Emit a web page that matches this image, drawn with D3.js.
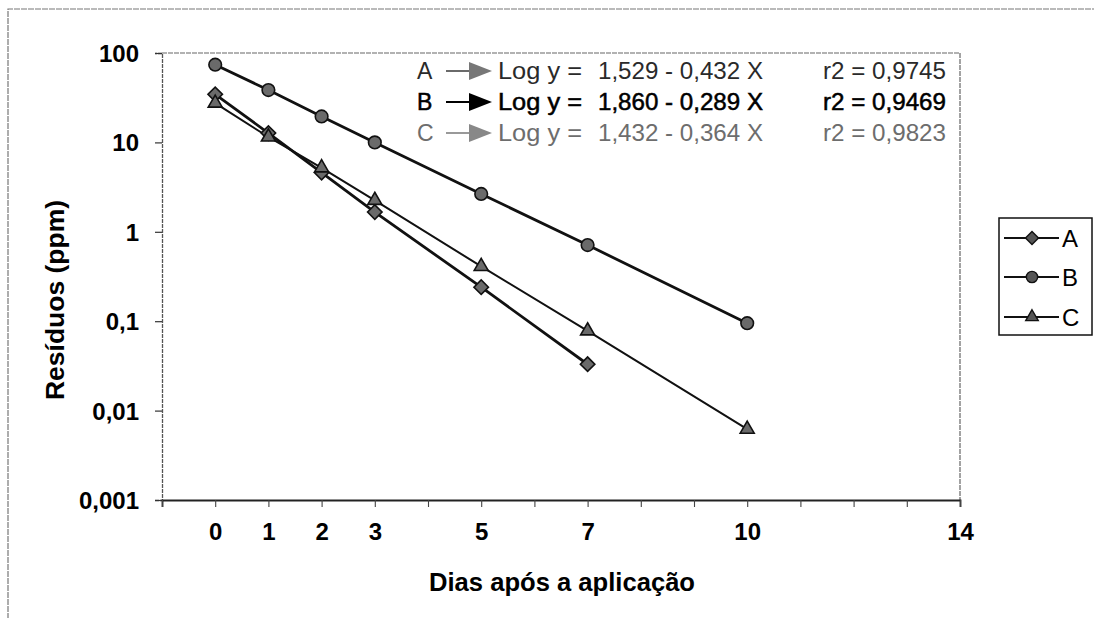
<!DOCTYPE html>
<html><head><meta charset="utf-8">
<script src="https://cdn.jsdelivr.net/npm/d3@7"></script>
<style>body{margin:0;background:#fff}svg{display:block;font-family:Arial,"Liberation Sans",sans-serif}</style>
</head><body><svg id="c" width="1094" height="618"></svg>
<script>
const days = [0, 1, 2, 3, 5, 7, 10];
const seriesA = [34.5, 12.7, 4.6, 1.66, 0.24, 0.033, null];
const seriesB = [74, 38.5, 19.5, 10.0, 2.65, 0.71, 0.095];
const seriesC = [27.5, 11.5, 5.2, 2.25, 0.41, 0.078, 0.0062];
const seriesNames = ["A", "B", "C"];
const xTickLabels = [0, 1, 2, 3, 5, 7, 10, 14];
const yTickValues = [0.001, 0.01, 0.1, 1, 10, 100];
const yTickLabels = ["0,001", "0,01", "0,1", "1", "10", "100"];
const eqIntercepts = ["1,529", "1,860", "1,432"];
const eqSlopes = ["0,432", "0,289", "0,364"];
const eqR2 = ["0,9745", "0,9469", "0,9823"];

const svg = d3.select("#c");
const L = 162, R = 960, T = 53, B = 500;
const x = d3.scaleLinear().domain([-1, 14]).range([L, R]);
const y = d3.scaleLog().domain([0.001, 100]).range([B, T]);
const FF = "Arial,'Liberation Sans',sans-serif";

// outer frame
svg.append("path").attr("d", "M8,640 L8,9 L1100,9").attr("fill", "none")
  .attr("stroke", "#777").attr("stroke-width", 1.2).attr("stroke-dasharray", "6,1");

// plot frame
svg.append("path").attr("d", `M${L},${T} L${R},${T} L${R},${B}`).attr("fill", "none")
  .attr("stroke", "#666").attr("stroke-width", 1.2).attr("stroke-dasharray", "5,1");

// y axis
const yAxis = d3.axisLeft(y).tickValues(yTickValues).tickSize(7).tickPadding(16)
  .tickFormat((d, i) => yTickLabels[i]);
const gy = svg.append("g").attr("transform", `translate(${L},0)`).call(yAxis);
gy.select(".domain").attr("stroke", "#555").attr("stroke-width", 1.3).attr("stroke-dasharray", "4,1");
gy.selectAll(".tick line").attr("stroke", "#333").attr("stroke-width", 1.2);
gy.selectAll("text").attr("font-size", 24).attr("font-weight", "bold").attr("fill", "#000")
  .attr("font-family", FF).attr("dy", "0.35em");

// x axis
const xAxis = d3.axisBottom(x).tickValues(d3.range(-1, 15)).tickSize(7).tickPadding(16)
  .tickFormat(d => xTickLabels.includes(d) ? String(d) : "");
const gx = svg.append("g").attr("transform", `translate(0,${B})`).call(xAxis);
gx.select(".domain").attr("stroke", "#222").attr("stroke-width", 1.8);
gx.selectAll(".tick line").attr("stroke", "#444").attr("stroke-width", 1.1);
gx.selectAll("text").attr("font-size", 24).attr("font-weight", "bold").attr("fill", "#000")
  .attr("font-family", FF);

// axis titles
svg.append("text").attr("x", 562).attr("y", 591).attr("text-anchor", "middle")
  .attr("font-size", 25).attr("font-weight", "bold")
  .attr("textLength", 266).attr("lengthAdjust", "spacingAndGlyphs").text("Dias após a aplicação");
svg.append("text").attr("transform", "translate(64,300) rotate(-90)").attr("text-anchor", "middle")
  .attr("font-size", 25).attr("font-weight", "bold")
  .attr("textLength", 200).attr("lengthAdjust", "spacingAndGlyphs").text("Resíduos (ppm)");

// series
const allSeries = [seriesA, seriesB, seriesC];
const symbols = [d3.symbolSquare, d3.symbolCircle, d3.symbolTriangle];
const symSizes = [105, 125, 85];
const symRot = [45, 0, 0];
const lineW = [2.8, 2.8, 2.0];
const line = d3.line().defined(d => d[1] != null).x(d => x(d[0])).y(d => y(d[1]));

allSeries.forEach((s, i) => {
  const pts = days.map((d, j) => [d, s[j]]);
  svg.append("path").datum(pts).attr("d", line).attr("fill", "none")
    .attr("stroke", "#111").attr("stroke-width", lineW[i]);
});
allSeries.forEach((s, i) => {
  const pts = days.map((d, j) => [d, s[j]]).filter(p => p[1] != null);
  svg.selectAll(null).data(pts).enter().append("path")
    .attr("d", d3.symbol().type(symbols[i]).size(symSizes[i]))
    .attr("transform", p => `translate(${x(p[0])},${y(p[1])}) rotate(${symRot[i]})`)
    .attr("fill", "#6a6a6a").attr("stroke", "#111").attr("stroke-width", 1.6);
});

// equations
const rowY = [71, 102, 133];
const rowFill = ["#2a2a2a", "#000", "#6d6d6d"];
const rowStroke = [0, 0.5, 0];
const arrowFill = ["#777", "#000", "#888"];
seriesNames.forEach((n, i) => {
  const g = svg.append("g").attr("font-size", 23).attr("fill", rowFill[i])
    .attr("stroke", rowFill[i]).attr("stroke-width", rowStroke[i]);
  const by = rowY[i] + 8;
  g.append("text").attr("x", 417).attr("y", by).text(n);
  g.append("line").attr("x1", 446).attr("x2", 472).attr("y1", rowY[i]).attr("y2", rowY[i])
    .attr("stroke", rowFill[i]).attr("stroke-width", i === 1 ? 2 : 1.4);
  g.append("path").attr("d", `M469,${rowY[i] - 9} L492,${rowY[i]} L469,${rowY[i] + 9} Z`)
    .attr("fill", arrowFill[i]).attr("stroke", "none");
  g.append("text").attr("x", 498).attr("y", by).attr("textLength", 84)
    .attr("lengthAdjust", "spacingAndGlyphs").text("Log y =");
  g.append("text").attr("x", 598).attr("y", by).attr("textLength", 165)
    .attr("lengthAdjust", "spacingAndGlyphs").text(`${eqIntercepts[i]} - ${eqSlopes[i]} X`);
  g.append("text").attr("x", 823).attr("y", by).attr("textLength", 123)
    .attr("lengthAdjust", "spacingAndGlyphs").text(`r2 = ${eqR2[i]}`);
});

// legend
svg.append("rect").attr("x", 999).attr("y", 218).attr("width", 93).attr("height", 117)
  .attr("fill", "#fff").attr("stroke", "#111").attr("stroke-width", 1.5);
const legY = [238, 277, 317];
seriesNames.forEach((n, i) => {
  svg.append("line").attr("x1", 1004).attr("x2", 1059).attr("y1", legY[i]).attr("y2", legY[i])
    .attr("stroke", "#111").attr("stroke-width", 2);
  svg.append("path").attr("d", d3.symbol().type(symbols[i]).size(symSizes[i] * 0.8))
    .attr("transform", `translate(1032,${legY[i]}) rotate(${symRot[i]})`)
    .attr("fill", "#555").attr("stroke", "#111").attr("stroke-width", 1.4);
  svg.append("text").attr("x", 1062).attr("y", legY[i] + 9).attr("font-size", 24).text(n);
});
</script></body></html>
